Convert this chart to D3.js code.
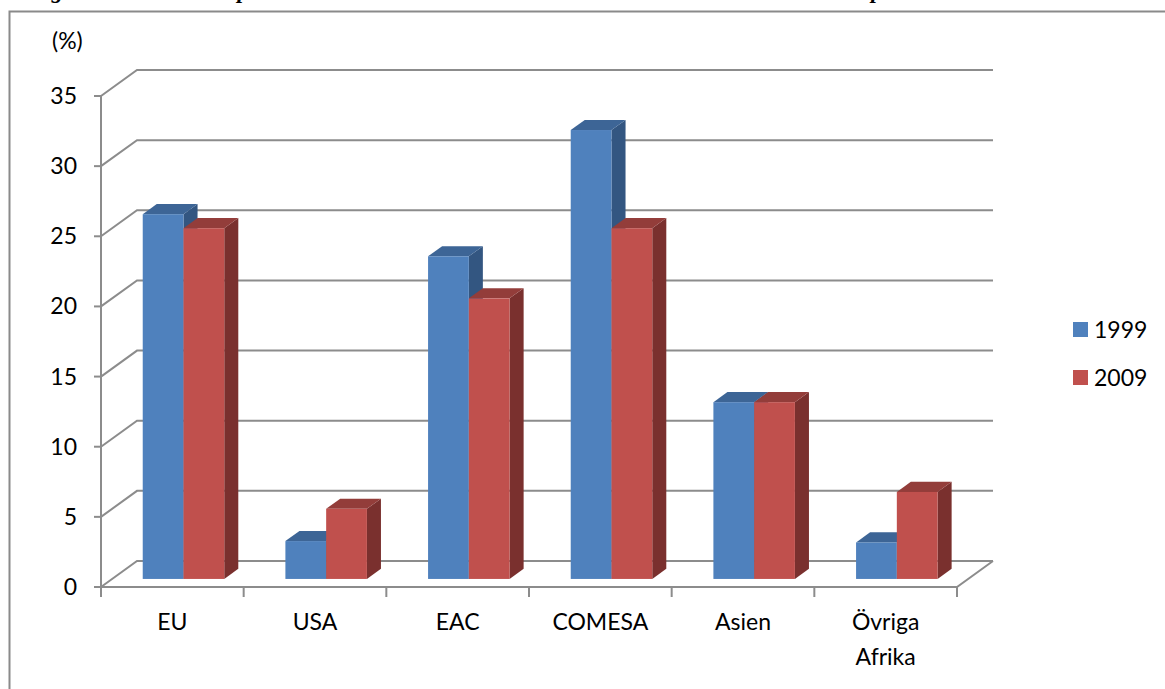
<!DOCTYPE html>
<html>
<head>
<meta charset="utf-8">
<script src="https://cdn.jsdelivr.net/npm/d3@7/dist/d3.min.js"></script>
<style>
  html, body { margin: 0; padding: 0; background: #fff; }
  svg { display: block; }
</style>
</head>
<body>
<svg id="chart" width="1165" height="689"></svg>
<script>
// Share of exports by destination, 1999 vs 2009 (%)
const categories = ["EU", "USA", "EAC", "COMESA", "Asien", "Övriga Afrika"];
const seriesNames = ["1999", "2009"];
const values1999 = [26, 2.7, 23, 32, 12.6, 2.6];
const values2009 = [25, 5, 20, 25, 12.6, 6.2];
const yTicks = [0, 5, 10, 15, 20, 25, 30, 35];
const titleText = "Figur 5. Tanzanias export till olika marknader 1999 och 2009 som andel av den totala exporten";

(function () {
  const seriesValues = [values1999, values2009];
  const frontColors = ["#4f81bd", "#c0504d"];
  const topColors = ["#3d6596", "#933d3a"];
  const sideColors = ["#335681", "#7a302e"];

  const svg = d3.select("#chart");

  // Plot box (front plane of the 3-D floor/walls)
  const plotLeft = 101, plotRight = 957, plotBottom = 587, plotTop = 96;
  const depthX = 36, depthY = -26;         // oblique depth offset of the walls
  const barT0 = 0.31, barT1 = 0.70;         // bar front/back planes as a fraction of depth

  const x = d3.scaleBand().domain(categories).range([plotLeft, plotRight]).paddingInner(0).paddingOuter(0);
  const xs = d3.scaleBand().domain(seriesNames).range([0, x.bandwidth()]).paddingInner(0).paddingOuter(0.75);
  const y = d3.scaleLinear().domain([0, 35]).range([plotBottom, plotTop]);

  const gridColor = "#8c8c8c";
  const font = "Lato, 'Open Sans', sans-serif";

  // Title line above the frame (page-cropped, only its descenders show)
  svg.append("text")
    .attr("x", 30).attr("y", -2)
    .attr("font-family", "'Liberation Serif', 'Times New Roman', serif")
    .attr("font-weight", "bold").attr("font-style", "italic")
    .attr("font-size", 23).attr("fill", "#000")
    .text(titleText);

  // Chart frame
  svg.append("rect")
    .attr("x", 9.5).attr("y", 11.5).attr("width", 1300).attr("height", 800)
    .attr("fill", "none").attr("stroke", "#8a8a8a").attr("stroke-width", 2);

  // Walls: gridlines run diagonally along the side wall then across the back wall
  const grid = svg.append("g").attr("fill", "none").attr("stroke", gridColor).attr("stroke-width", 2);
  yTicks.forEach(v => {
    const yy = y(v);
    grid.append("path").attr("d", d3.line()([[plotLeft, yy], [plotLeft + depthX, yy + depthY], [plotRight + depthX, yy + depthY]]));
  });
  // Floor outline
  grid.append("path").attr("d", d3.line()([[plotLeft, plotBottom], [plotRight, plotBottom], [plotRight + depthX, plotBottom + depthY]]));

  // Value axis
  const yAxis = svg.append("g");
  yAxis.append("line").attr("x1", plotLeft).attr("x2", plotLeft).attr("y1", y(35)).attr("y2", plotBottom + 10)
    .attr("stroke", gridColor).attr("stroke-width", 2);
  yTicks.forEach(v => {
    yAxis.append("line").attr("x1", plotLeft - 7).attr("x2", plotLeft).attr("y1", y(v)).attr("y2", y(v))
      .attr("stroke", gridColor).attr("stroke-width", 2);
    yAxis.append("text").attr("x", 77).attr("y", y(v) + 8)
      .attr("text-anchor", "end").attr("font-family", font).attr("font-size", 23).attr("fill", "#000")
      .text(v);
  });
  svg.append("text").attr("x", 52).attr("y", 49).attr("font-family", font).attr("font-size", 23)
    .attr("fill", "#000").text("(%)");

  // Category axis ticks and labels
  const xAxis = svg.append("g");
  const edges = categories.map(c => x(c)).concat([plotRight]);
  edges.forEach(px => {
    xAxis.append("line").attr("x1", px).attr("x2", px).attr("y1", plotBottom).attr("y2", plotBottom + 10)
      .attr("stroke", gridColor).attr("stroke-width", 2);
  });
  categories.forEach(c => {
    const words = c === "Övriga Afrika" ? ["Övriga", "Afrika"] : [c];
    const t = xAxis.append("text").attr("text-anchor", "middle").attr("font-family", font)
      .attr("font-size", 23).attr("fill", "#000");
    words.forEach((w, i) => {
      t.append("tspan").attr("x", x(c) + x.bandwidth() / 2).attr("y", 630 + i * 35).text(w);
    });
  });

  // 3-D columns, painted left to right: side, top, front
  const proj = (px, v, t) => [px + t * depthX, y(v) + t * depthY];
  const bars = svg.append("g");
  categories.forEach((c, ci) => {
    seriesNames.forEach((s, si) => {
      const v = seriesValues[si][ci];
      const x0 = x(c) + xs(s), x1 = x0 + xs.bandwidth();
      const line = d3.line();
      // side face
      bars.append("path").attr("fill", sideColors[si]).attr("d", line([
        proj(x1, 0, barT0), proj(x1, 0, barT1), proj(x1, v, barT1), proj(x1, v, barT0)]) + "Z");
      // top face
      bars.append("path").attr("fill", topColors[si]).attr("d", line([
        proj(x0, v, barT0), proj(x0, v, barT1), proj(x1, v, barT1), proj(x1, v, barT0)]) + "Z");
      // front face
      const p0 = proj(x0, v, barT0), p1 = proj(x1, 0, barT0);
      bars.append("rect").attr("fill", frontColors[si])
        .attr("x", p0[0]).attr("y", p0[1]).attr("width", p1[0] - p0[0]).attr("height", p1[1] - p0[1]);
    });
  });

  // Legend
  const legend = svg.append("g");
  seriesNames.forEach((s, i) => {
    const ly = 322 + i * 48;
    legend.append("rect").attr("x", 1073).attr("y", ly).attr("width", 15).attr("height", 15)
      .attr("fill", frontColors[i]);
    legend.append("text").attr("x", 1094).attr("y", ly + 15.5).attr("font-family", font)
      .attr("font-size", 23).attr("fill", "#000").text(s);
  });
})();
</script>
</body>
</html>
